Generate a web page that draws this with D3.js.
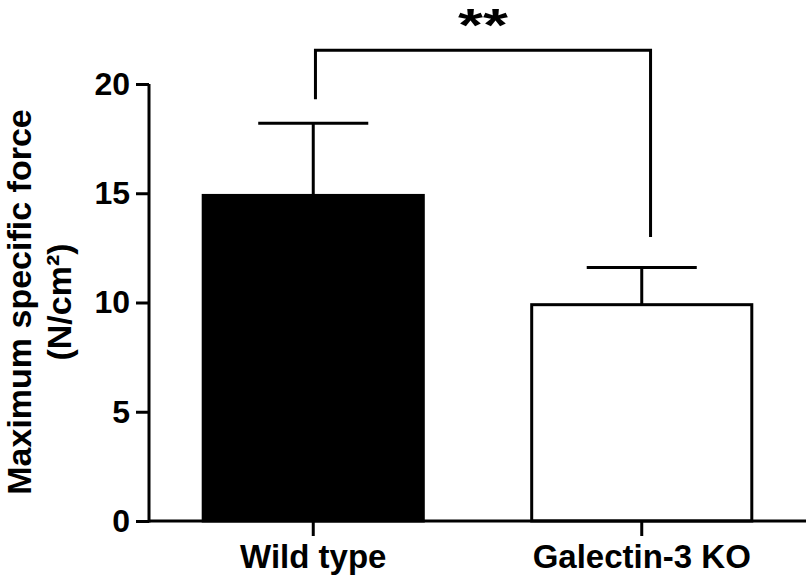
<!DOCTYPE html>
<html>
<head>
<meta charset="utf-8">
<script src="https://cdn.jsdelivr.net/npm/d3@7"></script>
<style>
  body { margin: 0; background: #fff; }
  svg { display: block; font-family: "Liberation Sans", Arial, sans-serif; font-weight: bold; }
</style>
</head>
<body>
<div id="chart"></div>
<script>
// data
var groups = ["Wild type", "Galectin-3 KO"];
var means = [14.9, 9.9];
var errTops = [18.2, 11.6];
var fills = ["#000", "#fff"];
var yTicks = [0, 5, 10, 15, 20];
// significance bracket (value units) and label
var bracketTop = 21.55;
var bracketLegs = [19.3, 13.0];
var bracketPos = [0.51, 0.54]; // where in each band the bracket leg sits
var sigLabel = "**";

var width = 810, height = 577;
var svg = d3.select("#chart").append("svg")
    .attr("width", width)
    .attr("height", height);

var x = d3.scaleBand()
    .domain(groups)
    .range([149, 806])
    .paddingInner(0.33)
    .paddingOuter(0.165);

var y = d3.scaleLinear()
    .domain([0, 20])
    .range([521, 84]);

// bars
svg.selectAll("rect.bar")
    .data(groups)
    .enter().append("rect")
    .attr("class", "bar")
    .attr("x", function(d) { return x(d); })
    .attr("width", x.bandwidth())
    .attr("y", function(d, i) { return y(means[i]); })
    .attr("height", function(d, i) { return y(0) - y(means[i]); })
    .attr("fill", function(d, i) { return fills[i]; })
    .attr("stroke", "#000")
    .attr("stroke-width", 3);

// error bars (upper only)
var cx = function(d) { return x(d) + x.bandwidth() / 2; };
svg.selectAll("line.stem")
    .data(groups)
    .enter().append("line")
    .attr("x1", cx).attr("x2", cx)
    .attr("y1", function(d, i) { return y(means[i]); })
    .attr("y2", function(d, i) { return y(errTops[i]); })
    .attr("stroke", "#000").attr("stroke-width", 3);
svg.selectAll("line.cap")
    .data(groups)
    .enter().append("line")
    .attr("x1", function(d) { return cx(d) - x.bandwidth() / 4; })
    .attr("x2", function(d) { return cx(d) + x.bandwidth() / 4; })
    .attr("y1", function(d, i) { return y(errTops[i]); })
    .attr("y2", function(d, i) { return y(errTops[i]); })
    .attr("stroke", "#000").attr("stroke-width", 3);

// significance bracket
var bx = groups.map(function(d, i) { return x(d) + x.bandwidth() * bracketPos[i]; });
svg.append("path")
    .attr("d", "M" + bx[0] + "," + y(bracketLegs[0]) +
               "V" + y(bracketTop) +
               "H" + bx[1] +
               "V" + y(bracketLegs[1]))
    .attr("fill", "none")
    .attr("stroke", "#000")
    .attr("stroke-width", 3);
// the stars are a bit squat in the original
svg.append("text")
    .attr("transform", "translate(" + ((bx[0] + bx[1]) / 2) + "," + (y(bracketTop) - 9) + ") scale(1,0.72)")
    .attr("text-anchor", "middle")
    .style("font-size", "64px")
    .text(sigLabel);

// y axis
var yAxis = svg.append("g")
    .attr("transform", "translate(149,0)")
    .call(d3.axisLeft(y).tickValues(yTicks).tickSize(13).tickSizeOuter(0).tickPadding(6));
yAxis.selectAll("text").style("font-size", "32px").attr("fill", "#000");

// x axis
var xAxis = svg.append("g")
    .attr("transform", "translate(0,521)")
    .call(d3.axisBottom(x).tickSize(15).tickSizeOuter(0).tickPadding(9));
xAxis.selectAll("text").style("font-size", "33px").attr("fill", "#000");

svg.selectAll(".domain, .tick line")
    .attr("stroke", "#000")
    .attr("stroke-width", 3);
xAxis.select(".domain").attr("d", "M149,0H806");
yAxis.select(".domain").attr("d", "M0," + y(20) + "V" + (y(0) + 1.5));

// y title
svg.append("text")
    .attr("transform", "translate(31,302) rotate(-90)")
    .attr("text-anchor", "middle")
    .style("font-size", "34px")
    .text("Maximum specific force");
svg.append("text")
    .attr("transform", "translate(71,302) rotate(-90)")
    .attr("text-anchor", "middle")
    .style("font-size", "34px")
    .text("(N/cm²)");
</script>
</body>
</html>
